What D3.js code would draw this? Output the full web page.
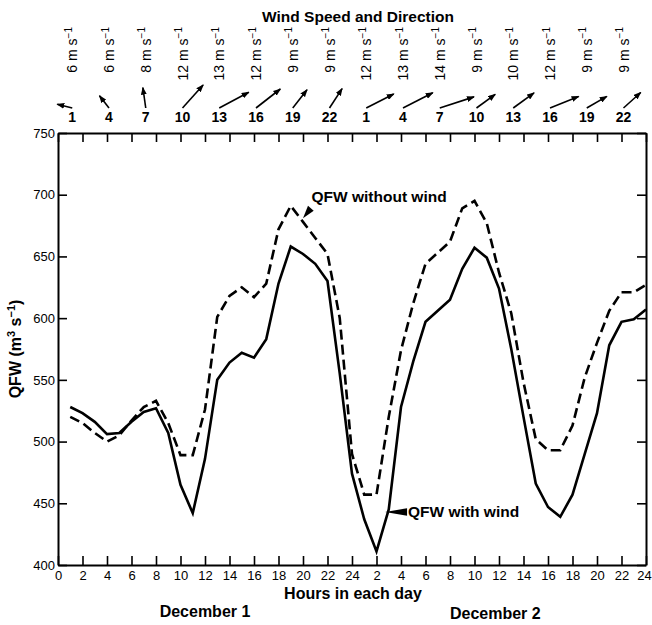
<!DOCTYPE html>
<html>
<head>
<meta charset="utf-8">
<script src="https://cdn.jsdelivr.net/npm/d3@7"></script>
<style>
body { margin: 0; background: #fff; }
svg { display: block; font-family: "Liberation Sans", Arial, Helvetica, sans-serif; }
</style>
</head>
<body>
<div class="chart"></div>
<script>
// DATA ------------------------------------
const hours = d3.range(1, 49)
const withWind = [528, 523, 516, 506, 507, 516, 524, 527, 507, 465, 442, 486,
    550, 564, 572, 568, 583, 628, 658, 652, 644, 630, 555, 474,
    437, 411, 445, 528, 565, 597, 606, 615, 640, 657, 649, 624,
    575, 520, 466, 447, 439, 457, 490, 523, 578, 597, 599, 607]
const withoutWind = [520, 515, 507, 500, 505, 517, 528, 533, 515, 489, 489, 526,
    601, 618, 625, 617, 628, 672, 691, 678, 665, 652, 600, 490,
    457, 457, 520, 574, 612, 644, 653, 662, 689, 695, 677, 637,
    604, 548, 502, 493, 493, 513, 552, 580, 606, 621, 621, 627]

const windHours = [1, 4, 7, 10, 13, 16, 19, 22, 25, 28, 31, 34, 37, 40, 43, 46]
const windSpeed = [6, 6, 8, 12, 13, 12, 9, 9, 12, 13, 14, 9, 10, 12, 9, 9]
const windDir = [284, 322, 352, 42, 62, 52, 38, 33, 63, 63, 72, 54, 54, 68, 60, 48]

const yTicks = [400, 450, 500, 550, 600, 650, 700, 750]
const xTicks = d3.range(0, 49, 2)

// CHART INIT ------------------------------
const margin = ({ top: 133, right: 6, bottom: 60, left: 58 })
const width = 652 - margin.left - margin.right
const height = 625 - margin.top - margin.bottom

const root = d3.select('.chart')
    .append('svg')
    .attr('width', 652)
    .attr('height', 625)

const svg = root.append('g')
    .attr('transform', 'translate(' + margin.left + ',' + margin.top + ')')

const xScale = d3.scaleLinear().domain([0, 48]).range([0, width])
const yScale = d3.scaleLinear().domain([400, 750]).range([height, 0])
const lenScale = d3.scaleLinear().domain([0, 14]).range([0, 36])

// AXES ------------------------------------
const tick = 9
const xAxis = d3.axisBottom(xScale).tickValues(xTicks)
    .tickSizeInner(-tick).tickSizeOuter(0).tickPadding(6)
    .tickFormat(d => d === 0 ? '0' : (d % 24 === 0 ? '24' : d % 24))
const yAxis = d3.axisLeft(yScale).tickValues(yTicks)
    .tickSizeInner(-tick).tickSizeOuter(0).tickPadding(3)

svg.append('g').attr('class', 'axis x-axis')
    .attr('transform', `translate(0, ${height})`)
    .call(xAxis)
svg.append('g').attr('class', 'axis y-axis')
    .call(yAxis)
svg.append('g').attr('class', 'axis top-axis')
    .call(d3.axisTop(xScale).tickValues(xTicks).tickSizeInner(-tick).tickSizeOuter(0).tickFormat(''))
svg.append('g').attr('class', 'axis right-axis')
    .attr('transform', `translate(${width}, 0)`)
    .call(d3.axisRight(yScale).tickValues(yTicks).tickSizeInner(-tick).tickSizeOuter(0).tickFormat(''))

svg.selectAll('.axis path').attr('stroke', '#000').attr('stroke-width', 2)
svg.selectAll('.axis line').attr('stroke', '#000').attr('stroke-width', 1.6)
svg.selectAll('.axis text')
    .attr('fill', '#000')
    .attr('font-size', 13)
    .attr('font-family', '"Liberation Sans", Arial, sans-serif')
// keep the last "24" inside the picture
svg.selectAll('.x-axis .tick text').filter(d => d === 48).attr('dx', -2)

// LINES -----------------------------------
const line = d3.line()
    .x((d, i) => xScale(hours[i]))
    .y(d => yScale(d))

svg.append('path')
    .datum(withoutWind)
    .attr('fill', 'none')
    .attr('stroke', '#000')
    .attr('stroke-width', 2.6)
    .attr('stroke-dasharray', '10,5')
    .attr('d', line)

svg.append('path')
    .datum(withWind)
    .attr('fill', 'none')
    .attr('stroke', '#000')
    .attr('stroke-width', 2.6)
    .attr('d', line)

// ANNOTATIONS -----------------------------
function pointer(hx, v, pts, label, dx, dy) {
    const tx = xScale(hx), ty = yScale(v)
    svg.append('path')
        .attr('d', 'M' + tx + ',' + ty + pts.map(p => 'L' + (tx + p[0]) + ',' + (ty + p[1])).join('') + 'Z')
        .attr('fill', '#000')
    svg.append('text')
        .attr('x', tx + dx)
        .attr('y', ty + dy)
        .attr('font-size', 15.5)
        .attr('font-weight', 'bold')
        .text(label)
}
pointer(20, 681, [[5, -12.5], [10.7, -7.5]], 'QFW without wind', 8.5, -16)
pointer(26.7, 443, [[22, -3.8], [22, 3.8]], 'QFW with wind', 23, 5.5)

// WIND ROW --------------------------------
const defs = root.append('defs')
defs.append('marker')
    .attr('id', 'ah')
    .attr('viewBox', '0 -3 8 6')
    .attr('refX', 7)
    .attr('refY', 0)
    .attr('markerUnits', 'userSpaceOnUse')
    .attr('markerWidth', 8)
    .attr('markerHeight', 6)
    .attr('orient', 'auto')
    .append('path')
    .attr('d', 'M0,-3L8,0L0,3Z')
    .attr('fill', '#000')

const wind = root.append('g')
    .attr('transform', 'translate(' + margin.left + ',0)')

windHours.forEach((h, i) => {
    const x = xScale(h) + 2
    const a = windDir[i] * Math.PI / 180
    const len = lenScale(windSpeed[i])
    const y0 = 108
    wind.append('line')
        .attr('x1', x).attr('y1', y0)
        .attr('x2', x + len * Math.sin(a)).attr('y2', y0 - len * Math.cos(a))
        .attr('stroke', '#000')
        .attr('stroke-width', 1.6)
        .attr('marker-end', 'url(#ah)')

    wind.append('text')
        .attr('x', x)
        .attr('y', 122)
        .attr('text-anchor', 'middle')
        .attr('font-size', 14)
        .attr('font-weight', 'bold')
        .text(h > 24 ? h - 24 : h)

    const t = wind.append('text')
        .attr('transform', `translate(${x + 5}, 27) rotate(-90)`)
        .attr('text-anchor', 'end')
        .attr('font-size', 14)
    t.append('tspan').text(windSpeed[i] + ' m s')
    t.append('tspan').attr('dy', -5.5).attr('font-size', 10).text('\u22121')
})

// LABELS ----------------------------------
root.append('text')
    .attr('x', 358).attr('y', 22)
    .attr('text-anchor', 'middle')
    .attr('font-size', 15.5)
    .attr('font-weight', 'bold')
    .text('Wind Speed and Direction')

const yl = root.append('text')
    .attr('transform', 'translate(21, 349) rotate(-90)')
    .attr('text-anchor', 'middle')
    .attr('font-size', 16)
    .attr('font-weight', 'bold')
yl.append('tspan').text('QFW (m')
yl.append('tspan').attr('dy', -6).attr('font-size', 11).text('3')
yl.append('tspan').attr('dy', 6).text(' s')
yl.append('tspan').attr('dy', -6).attr('font-size', 11).text('\u22121')
yl.append('tspan').attr('dy', 6).text(')')

root.append('text')
    .attr('x', 353).attr('y', 599)
    .attr('text-anchor', 'middle')
    .attr('font-size', 16)
    .attr('font-weight', 'bold')
    .text('Hours in each day')

root.append('text')
    .attr('x', margin.left + xScale(12)).attr('y', 617)
    .attr('text-anchor', 'middle')
    .attr('font-size', 16)
    .attr('font-weight', 'bold')
    .text('December 1')

root.append('text')
    .attr('x', margin.left + xScale(35.7)).attr('y', 619)
    .attr('text-anchor', 'middle')
    .attr('font-size', 16)
    .attr('font-weight', 'bold')
    .text('December 2')
</script>
</body>
</html>
